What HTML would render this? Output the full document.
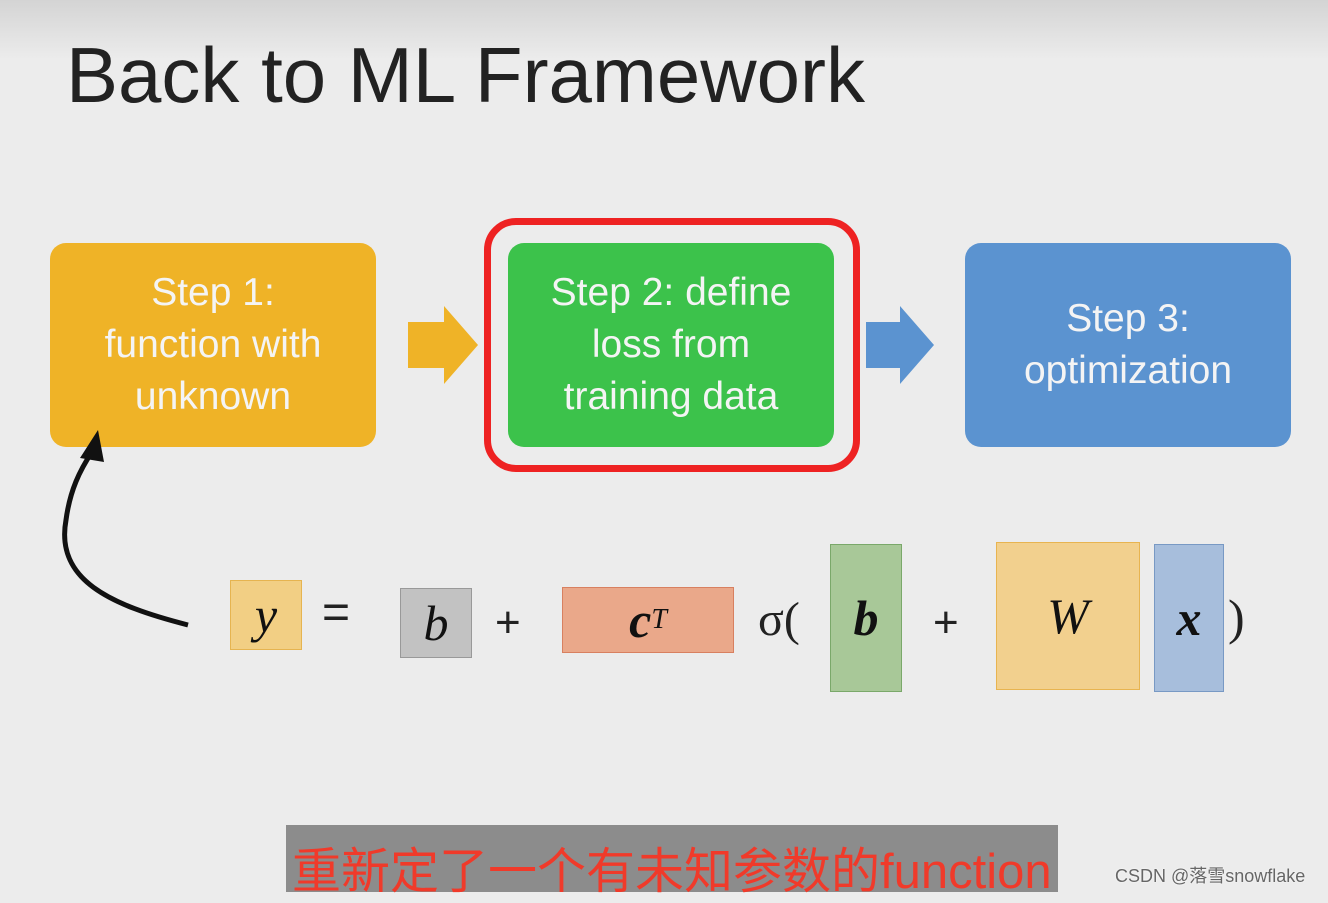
<!DOCTYPE html>
<html><head><meta charset="utf-8"><style>
body{margin:0;width:1328px;height:892px;overflow:hidden;background:#ececec;font-family:"Liberation Sans","Noto Sans CJK SC",sans-serif;position:relative}
.bg{position:absolute;left:0;top:0;width:1328px;height:60px;background:linear-gradient(#d4d4d4,#ececec)}
.a{position:absolute}
.box{position:absolute;border-radius:16px;color:#f4f4f4;font-size:39px;text-align:center;display:flex;align-items:center;justify-content:center;line-height:52px}
.m{position:absolute;font-family:"Liberation Serif",serif;font-style:italic;font-size:50px;display:flex;align-items:center;justify-content:center;color:#111}
</style></head><body>
<div class="bg"></div>
<div class="a" style="left:66px;top:30px;font-size:78px;color:#222">Back to ML Framework</div>
<div class="box" style="left:50px;top:243px;width:326px;height:204px;background:#efb327">Step 1:<br>function with<br>unknown</div>
<div class="a" style="left:484px;top:218px;width:362px;height:240px;border:7px solid #ee2222;border-radius:32px"></div>
<div class="box" style="left:508px;top:243px;width:326px;height:204px;background:#3cc24b">Step 2: define<br>loss from<br>training data</div>
<div class="box" style="left:965px;top:243px;width:326px;height:204px;background:#5b93d0">Step 3:<br>optimization</div>
<svg class="a" style="left:0;top:0" width="1328" height="892">
<polygon points="408,322 444,322 444,306 478,345 444,384 444,368 408,368" fill="#efb327"/>
<polygon points="866,322 900,322 900,306 934,345 900,384 900,368 866,368" fill="#5b93d0"/>
<path d="M188,625 C110,605 55,580 66,520 C70,490 80,470 92,452" fill="none" stroke="#111" stroke-width="5"/>
<polygon points="98,430 80,458 104,462" fill="#111"/>
</svg>
<div class="m" style="left:230px;top:580px;width:70px;height:68px;background:#f2cf84;border:1px solid #e6b450">y</div>
<div class="a" style="left:322px;top:585px;font-size:48px;color:#222">=</div>
<div class="m" style="left:400px;top:588px;width:70px;height:68px;background:#c2c2c2;border:1px solid #999">b</div>
<div class="a" style="left:495px;top:598px;font-size:44px;color:#222">+</div>
<div class="m" style="left:562px;top:587px;width:170px;height:64px;background:#eaa88a;border:1px solid #d88060;font-weight:bold">c<sup style="font-size:28px;font-weight:normal">T</sup></div>
<div class="a" style="left:758px;top:592px;font-size:48px;font-family:'Liberation Serif',serif;color:#222">σ(</div>
<div class="m" style="left:830px;top:544px;width:70px;height:146px;background:#a8c898;border:1px solid #7aa86a;font-weight:bold">b</div>
<div class="a" style="left:933px;top:598px;font-size:44px;color:#222">+</div>
<div class="m" style="left:996px;top:542px;width:142px;height:146px;background:#f2d08e;border:1px solid #e8b450">W</div>
<div class="m" style="left:1154px;top:544px;width:68px;height:146px;background:#a7bedc;border:1px solid #7899c4;font-weight:bold">x</div>
<div class="a" style="left:1228px;top:588px;font-size:50px;font-family:'Liberation Serif',serif;color:#222">)</div>
<div class="a" style="left:286px;top:825px;width:772px;height:67px;background:#8c8c8c"></div>
<div class="a" style="left:292px;top:832px;font-size:49px;color:#f03a2a;white-space:nowrap">重新定了一个有未知参数的function</div>
<div class="a" style="left:1115px;top:862px;font-size:18px;color:#666;text-shadow:0 0 2px #fff">CSDN @落雪snowflake</div>
</body></html>
